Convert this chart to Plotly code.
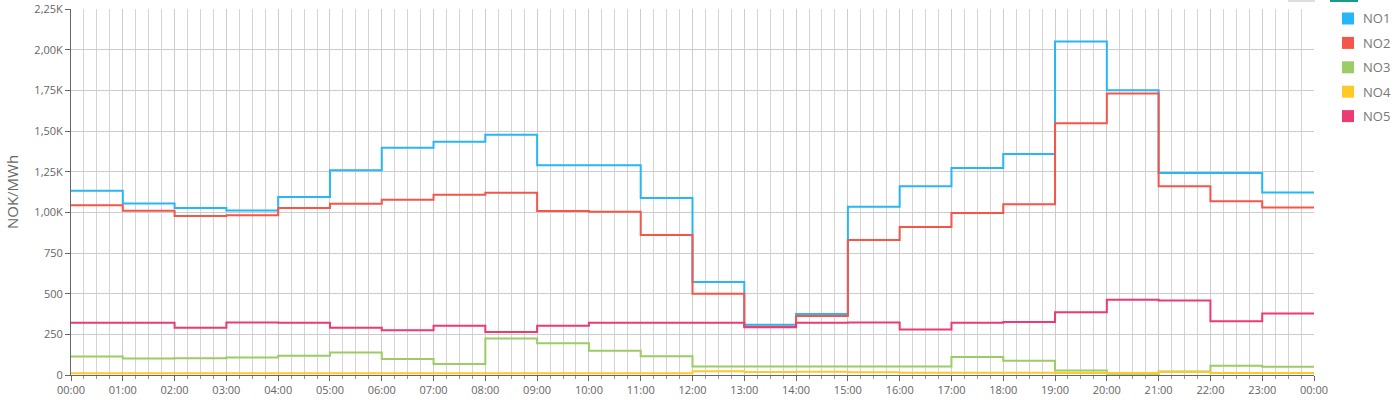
import plotly.graph_objects as go
import pandas as pd

hours = pd.date_range("2024-01-01 00:00", periods=25, freq="h")

no1 = [1133, 1055, 1027, 1012, 1094, 1258, 1397, 1434, 1477, 1289, 1289, 1088,
       571, 309, 375, 1035, 1160, 1273, 1359, 2050, 1750, 1242, 1242, 1122]
no2 = [1043, 1010, 977, 982, 1027, 1053, 1077, 1108, 1121, 1008, 1004, 861,
       499, 297, 363, 830, 910, 996, 1049, 1547, 1730, 1160, 1068, 1029]
no3 = [113, 101, 103, 107, 118, 139, 99, 67, 225, 195, 149, 116,
       53, 53, 53, 53, 53, 111, 88, 27, 8, 21, 57, 50]
no4 = [11, 11, 11, 11, 11, 11, 11, 11, 11, 11, 11, 11,
       23, 19, 20, 17, 14, 14, 14, 13, 13, 18, 13, 13]
no5 = [321, 321, 290, 322, 321, 290, 275, 302, 265, 302, 321, 321,
       321, 293, 321, 323, 279, 321, 326, 386, 462, 458, 330, 378]

series_names = ["NO1", "NO2", "NO3", "NO4", "NO5"]
series_values = [no1, no2, no3, no4, no5]
colors = ["#29B6F6", "#F4564A", "#9CCC65", "#FFCA28", "#EC3A73"]

y_tickvals = [0, 250, 500, 750, 1000, 1250, 1500, 1750, 2000, 2250]
y_ticktext = ["0", "250", "500", "750", "1,00K", "1,25K", "1,50K", "1,75K", "2,00K", "2,25K"]

W, H = 1400, 400
ML, MR, MT, MB = 71, 86, 9, 25
PW, PH = W - ML - MR, H - MT - MB


def px_x(x):
    return (x - ML) / PW


def px_y(y):
    return (H - MB - y) / PH


fig = go.Figure()
for name, vals, col in zip(series_names, series_values, colors):
    fig.add_trace(go.Scatter(
        x=hours, y=list(vals) + [vals[-1]], mode="lines", line_shape="hv",
        line=dict(color=col, width=2), name=name, showlegend=False,
        hoverinfo="skip"))

# manual legend (square swatches + labels), placed like the reference
for i, (name, col) in enumerate(zip(series_names, colors)):
    cy = 18.5 + i * 24.4
    fig.add_shape(type="rect", xref="paper", yref="paper",
                  x0=px_x(1342), x1=px_x(1354), y0=px_y(cy + 6), y1=px_y(cy - 6),
                  line=dict(width=0), fillcolor=col)
    fig.add_annotation(xref="paper", yref="paper", x=px_x(1361), y=px_y(cy),
                       xanchor="left", yanchor="middle", showarrow=False,
                       text=name, font=dict(size=13, color="#777777"))

fig.update_layout(
    width=W, height=H,
    margin=dict(l=ML, r=MR, t=MT, b=MB, autoexpand=False),
    paper_bgcolor="white", plot_bgcolor="white",
    font=dict(family="Open Sans, DejaVu Sans, sans-serif", color="#666666", size=11),
    showlegend=False,
)
fig.update_xaxes(
    range=[hours[0], hours[-1]], type="date",
    tickformat="%H:%M", dtick=3600000, tick0=hours[0],
    showgrid=True, gridcolor="#cccccc", gridwidth=1,
    showline=True, linecolor="#666666", linewidth=1,
    ticks="outside", ticklen=5, tickcolor="#666666",
    tickfont=dict(size=11, color="#666666"),
    minor=dict(dtick=900000, showgrid=True, gridcolor="#d4d4d4", gridwidth=1,
               ticks="outside", ticklen=3, tickcolor="#999999"),
    zeroline=False,
)
fig.update_yaxes(
    range=[0, 2250], tickvals=y_tickvals, ticktext=y_ticktext,
    showgrid=True, gridcolor="#cccccc", gridwidth=1,
    showline=True, linecolor="#666666", linewidth=1,
    ticks="outside", ticklen=5, tickcolor="#666666",
    tickfont=dict(size=11, color="#666666"),
    title=dict(text="NOK/MWh", font=dict(size=15, color="#666666"), standoff=12),
    zeroline=False,
)
fig.add_shape(type="rect", xref="paper", yref="paper",
              x0=px_x(1288), x1=px_x(1315), y0=px_y(2), y1=px_y(0),
              line=dict(width=0), fillcolor="#dddddd")
fig.add_shape(type="rect", xref="paper", yref="paper",
              x0=px_x(1330), x1=px_x(1358), y0=px_y(2), y1=px_y(0),
              line=dict(width=0), fillcolor="#1a9a8c")

fig.write_html("out.html", config={"displayModeBar": False},
               post_script="document.body.style.margin='0';document.body.style.overflow='hidden';")
